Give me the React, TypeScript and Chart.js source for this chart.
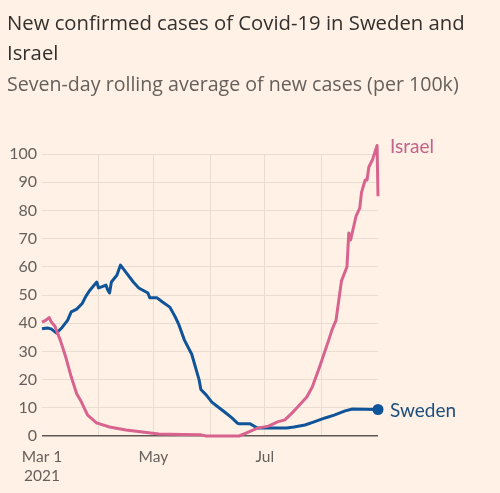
import React, { useEffect, useRef } from "react";
import { Chart, registerables } from "chart.js";

Chart.register(...registerables);

// Day offsets from 1 March 2021
const swedenDays = [0, 3, 5, 8, 11, 14, 16, 19, 22, 24, 26, 30, 31, 33, 35, 36, 37, 38, 41, 43, 46, 50, 53, 58, 59, 63, 66, 70, 73, 75, 78, 82, 86, 87, 90, 93, 95, 100, 104, 107, 108, 114, 117, 118, 126, 134, 138, 144, 149, 155, 160, 166, 170, 184];
const swedenValues = [38, 38.3, 38, 36.5, 38.5, 41, 44, 45, 47, 49.5, 51.5, 54.6, 52.5, 53, 53.5, 51.8, 50.7, 54.6, 57, 60.6, 58, 54.6, 52.5, 50.7, 49, 49, 47.5, 45.7, 42.2, 39.4, 34, 29, 20, 16.5, 14.5, 12, 11, 8.5, 6.4, 4.6, 4.3, 4.3, 3.2, 2.8, 2.8, 2.8, 3.2, 3.9, 5, 6.4, 7.4, 8.9, 9.6, 9.4];

const israelDays = [0, 2, 4, 5, 7, 10, 13, 16, 19, 21, 25, 30, 32, 37, 46, 55, 64, 77, 87, 90, 108, 113, 118, 124, 129, 133, 137, 140, 145, 148, 152, 157, 159, 161, 162, 164, 167, 168, 169, 172, 174, 175, 177, 178, 179, 181, 183.5, 184];
const israelValues = [40.4, 41, 42, 40.5, 39, 34, 28, 21, 15, 12.8, 7.4, 4.6, 4.2, 3.2, 2.1, 1.4, 0.7, 0.5, 0.4, 0, 0, 1.4, 2.8, 3.5, 5, 5.7, 8.2, 10.3, 13.8, 17.4, 24.5, 34, 38, 41, 45.7, 55, 60, 72, 69.5, 78, 80.8, 86.5, 90.8, 90.8, 95.4, 98, 103, 85];

const monthTicks = [0, 31, 61, 92, 122, 153, 184];
const monthLabels: (string | string[])[] = [["Mar 1", "2021"], "", "May", "", "Jul", "", ""];
const yTicks = [0, 10, 20, 30, 40, 50, 60, 70, 80, 90, 100];

const SWEDEN = "#0F5499";
const ISRAEL = "#D8638F";

const labelPlugin = {
  id: "endLabels",
  afterDatasetsDraw(chart: any) {
    const ctx = chart.ctx;
    const xs = chart.scales.x;
    const ys = chart.scales.y;
    ctx.save();
    ctx.textBaseline = "middle";
    ctx.textAlign = "left";
    ctx.font = "19px Lato";
    ctx.fillStyle = "#C4628B";
    ctx.fillText("Israel", xs.getPixelForValue(184) + 12, ys.getPixelForValue(Math.max(...israelValues)) + 1);
    ctx.fillStyle = "#1B4F80";
    ctx.fillText("Sweden", xs.getPixelForValue(184) + 12, ys.getPixelForValue(swedenValues[swedenValues.length - 1]) + 1);
    ctx.restore();
  },
};

export default function App() {
  const ref = useRef<HTMLCanvasElement>(null);
  useEffect(() => {
    if (!ref.current) return;
    const israelMax = Math.max(...israelValues);
    const chart = new Chart(ref.current, {
      type: "line",
      data: {
        datasets: [
          {
            label: "Israel",
            data: israelDays.map((d, i) => ({ x: d, y: israelValues[i] })),
            borderColor: ISRAEL,
            backgroundColor: ISRAEL,
            borderWidth: 3,
            tension: 0,
            clip: false,
            pointRadius: israelValues.map((v) => (v === israelMax ? 5.5 : 0)),
            pointBorderWidth: 0,
            borderJoinStyle: "round",
          },
          {
            label: "Sweden",
            data: swedenDays.map((d, i) => ({ x: d, y: swedenValues[i] })),
            borderColor: SWEDEN,
            backgroundColor: SWEDEN,
            borderWidth: 3,
            tension: 0,
            clip: false,
            pointRadius: swedenValues.map((_, i) => (i === swedenValues.length - 1 ? 5.5 : 0)),
            pointBorderWidth: 0,
            borderJoinStyle: "round",
          },
        ],
      },
      options: {
        animation: false,
        responsive: false,
        devicePixelRatio: 1,
        layout: { padding: { top: 154, right: 122, left: 0, bottom: 0 } },
        plugins: { legend: { display: false }, tooltip: { enabled: false } },
        scales: {
          x: {
            type: "linear",
            min: 0,
            max: 184,
            border: { display: false },
            afterFit(scale: any) {
              scale.height = 57;
            },
            afterBuildTicks(scale: any) {
              scale.ticks = monthTicks.map((v) => ({ value: v }));
            },
            grid: {
              drawTicks: false,
              color: (c: any) => (c.tick && (c.tick.value === 0 || c.tick.value === 184) ? "rgba(0,0,0,0)" : "#E9DDD2"),
              lineWidth: 1,
            },
            ticks: {
              autoSkip: false,
              maxRotation: 0,
              padding: 12,
              color: "#66605C",
              font: { family: "Lato", size: 15.5 },
              callback: (v: any) => {
                const i = monthTicks.indexOf(Number(v));
                return i >= 0 ? monthLabels[i] : "";
              },
            },
          },
          y: {
            min: 0,
            max: 100,
            border: { display: false },
            afterFit(scale: any) {
              scale.width = 42;
            },
            afterBuildTicks(scale: any) {
              scale.ticks = yTicks.map((v) => ({ value: v }));
            },
            grid: {
              drawTicks: false,
              color: (c: any) => (c.tick && c.tick.value === 0 ? "#5E5955" : "#E9DDD2"),
              lineWidth: (c: any) => (c.tick && c.tick.value === 0 ? 1.5 : 1),
            },
            ticks: {
              padding: 5,
              color: "#66605C",
              font: { family: "Lato", size: 16 },
            },
          },
        },
      },
      plugins: [labelPlugin],
    } as any);
    return () => chart.destroy();
  }, []);

  return (
    <div style={{ position: "absolute", left: 0, top: 0, width: 500, height: 493, background: "#FFF1E5", overflow: "hidden" }}>
      <canvas ref={ref} width={500} height={493} style={{ position: "absolute", left: 0, top: 0, width: 500, height: 493 }} />
      <div style={{ position: "absolute", left: 7, top: 7, fontFamily: "'Open Sans'", fontSize: 20.3, lineHeight: "30px", color: "#33302E", whiteSpace: "nowrap" }}>
        New confirmed cases of Covid-19 in Sweden and
        <br />
        Israel
      </div>
      <div style={{ position: "absolute", left: 7, top: 71, fontFamily: "'Open Sans'", fontSize: 19.6, lineHeight: "26px", color: "#66605C", whiteSpace: "nowrap" }}>
        Seven-day rolling average of new cases (per 100k)
      </div>
    </div>
  );
}
